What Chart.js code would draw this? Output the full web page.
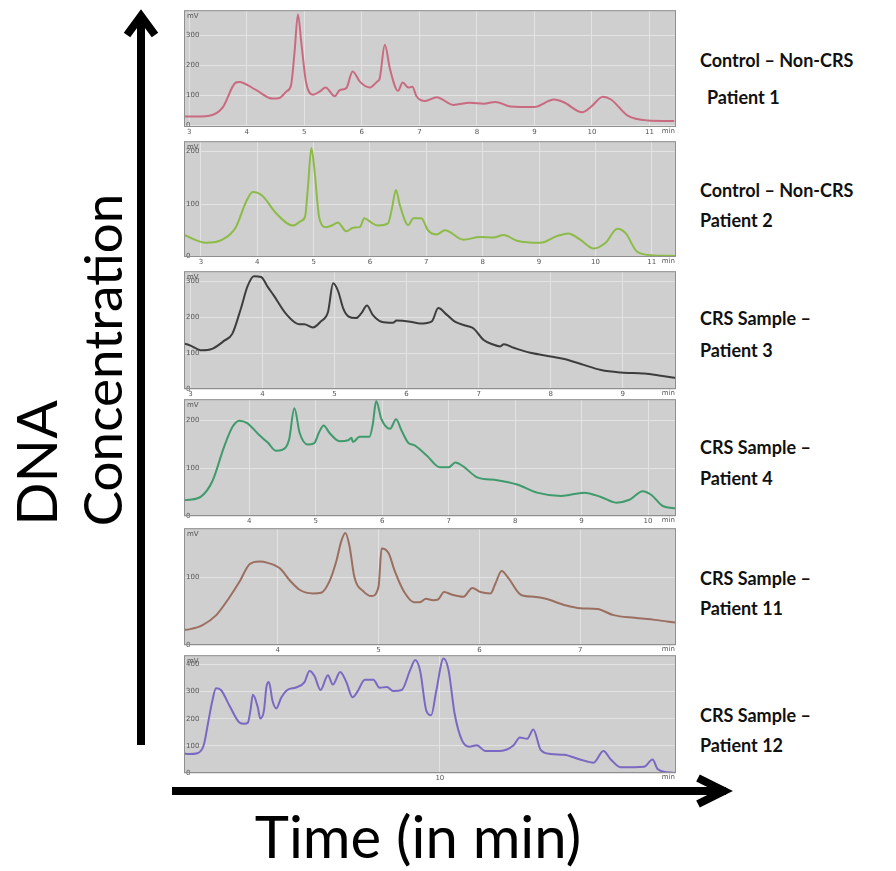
<!DOCTYPE html>
<html>
<head>
<meta charset="utf-8">
<script src="https://cdn.jsdelivr.net/npm/chart.js@4.4.1/dist/chart.umd.min.js"></script>
<style>
  body { margin: 0; background: #fff; width: 896px; height: 871px; position: relative; overflow: hidden; font-family: Lato, sans-serif; }
  canvas.panel { position: absolute; left: 183px; }
  .label { position: absolute; left: 700px; font-weight: bold; font-size: 18px; color: #111; line-height: 1; white-space: nowrap; }
  .big { position: absolute; color: #000; white-space: nowrap; line-height: 1; }
  .rot { transform: translate(-50%, -50%) rotate(-90deg); }
  svg { position: absolute; left: 0; top: 0; }
</style>
</head>
<body>
<svg width="896" height="871">
  <line x1="141" y1="22" x2="141" y2="745" stroke="#000" stroke-width="8"/>
  <polyline points="127,35 141,16 155,35" fill="none" stroke="#000" stroke-width="8" stroke-linejoin="miter"/>
  <line x1="172" y1="791" x2="726" y2="791" stroke="#000" stroke-width="8"/>
  <polyline points="698,778 724,791 698,804" fill="none" stroke="#000" stroke-width="8" stroke-linejoin="miter"/>
</svg>

<canvas class="panel" id="p1" width="494" height="131" style="top:4px"></canvas>
<canvas class="panel" id="p2" width="494" height="130" style="top:135px"></canvas>
<canvas class="panel" id="p3" width="494" height="132" style="top:265px"></canvas>
<canvas class="panel" id="p4" width="494" height="131" style="top:393px"></canvas>
<canvas class="panel" id="p5" width="494" height="131" style="top:522px"></canvas>
<canvas class="panel" id="p6" width="494" height="132" style="top:649px"></canvas>

<div class="big rot" style="left:35px; top:463px; font-size:57px">DNA</div>
<div class="big rot" style="left:101px; top:360px; font-size:53px">Concentration</div>
<div class="big" style="left:418px; top:836px; font-size:58px; transform: translate(-50%, -50%)">Time (in min)</div>

<div class="label" style="top:51px">Control – Non-CRS</div>
<div class="label" style="top:88px; left:707px">Patient 1</div>
<div class="label" style="top:181px">Control – Non-CRS</div>
<div class="label" style="top:211px">Patient 2</div>
<div class="label" style="top:309px">CRS Sample –</div>
<div class="label" style="top:341px">Patient 3</div>
<div class="label" style="top:438px">CRS Sample –</div>
<div class="label" style="top:469px">Patient 4</div>
<div class="label" style="top:569px">CRS Sample –</div>
<div class="label" style="top:599px">Patient 11</div>
<div class="label" style="top:706px">CRS Sample –</div>
<div class="label" style="top:736px">Patient 12</div>

<script>
// Control - Patient 1
const p1Time = [2.91, 3.0, 3.35, 3.58, 3.81, 3.87, 4.16, 4.45, 4.57, 4.69, 4.77, 4.83, 4.89, 4.95, 5.03, 5.15, 5.27, 5.37, 5.53, 5.62,
  5.73, 5.84, 5.97, 6.14, 6.26, 6.31, 6.40, 6.49, 6.63, 6.71, 6.81, 6.88, 6.95, 7.10, 7.30, 7.59, 7.88, 8.12, 8.32, 8.58,
  8.99, 9.34, 9.51, 9.83, 9.98, 10.19, 10.33, 10.62, 10.97, 11.43];
const p1Signal = [29, 29, 32, 59, 143, 145, 118, 89, 91, 113, 134, 242, 371, 274, 145, 102, 113, 126, 97, 118,
  124, 180, 145, 126, 145, 156, 269, 188, 115, 143, 126, 129, 97, 81, 94, 68, 75, 72, 78, 63,
  61, 86, 77, 43, 61, 95, 86, 32, 16, 14];
const p1XTicks = [3, 4, 5, 6, 7, 8, 9, 10, 11];
const p1YTicks = [0, 100, 200, 300];

// Control - Patient 2
const p2Time = [2.70, 3.09, 3.38, 3.62, 3.80, 3.92, 4.09, 4.33, 4.63, 4.78, 4.85, 4.90, 4.96, 5.01, 5.10, 5.22, 5.34, 5.43, 5.58, 5.70,
  5.82, 5.90, 6.02, 6.14, 6.32, 6.39, 6.46, 6.53, 6.68, 6.77, 6.91, 7.03, 7.18, 7.33, 7.66, 7.95, 8.19, 8.37, 8.61, 9.02,
  9.32, 9.52, 9.73, 9.97, 10.18, 10.39, 10.54, 10.74, 11.04, 11.42];
const p2Signal = [41, 26, 32, 56, 104, 123, 116, 83, 59, 68, 77, 134, 207, 170, 74, 56, 60, 65, 48, 55,
  56, 73, 65, 59, 63, 92, 127, 98, 60, 73, 73, 50, 42, 50, 32, 37, 36, 41, 30, 26,
  39, 44, 32, 15, 26, 53, 44, 9, 2, 1];
const p2XTicks = [3, 4, 5, 6, 7, 8, 9, 10, 11];
const p2YTicks = [0, 100, 200];

// CRS - Patient 3
const p3Time = [2.91, 2.98, 3.16, 3.30, 3.47, 3.58, 3.70, 3.79, 3.88, 3.98, 4.07, 4.16, 4.33, 4.51, 4.58, 4.70, 4.81, 4.91, 4.98, 5.05,
  5.12, 5.19, 5.30, 5.37, 5.45, 5.53, 5.65, 5.81, 5.86, 6.05, 6.19, 6.35, 6.44, 6.56, 6.67, 6.84, 6.93, 7.07, 7.19, 7.30,
  7.35, 7.49, 7.72, 8.00, 8.19, 8.42, 8.70, 8.98, 9.30, 9.53, 9.74];
const p3Signal = [127, 123, 108, 112, 135, 154, 225, 286, 315, 313, 286, 260, 209, 181, 181, 172, 189, 216, 295, 273,
  225, 203, 198, 211, 233, 207, 188, 185, 191, 188, 183, 189, 226, 207, 188, 176, 169, 137, 125, 119,
  125, 115, 101, 91, 84, 70, 53, 46, 43, 37, 31];
const p3XTicks = [3, 4, 5, 6, 7, 8, 9];
const p3YTicks = [0, 100, 200, 300];

// CRS - Patient 4
const p4Time = [3.02, 3.09, 3.27, 3.45, 3.62, 3.75, 3.85, 3.97, 4.15, 4.28, 4.40, 4.50, 4.60, 4.68, 4.76, 4.88, 4.98, 5.05, 5.12, 5.21,
  5.36, 5.49, 5.54, 5.56, 5.66, 5.81, 5.86, 5.91, 5.99, 6.12, 6.21, 6.29, 6.39, 6.49, 6.67, 6.87, 7.00, 7.10, 7.22, 7.43,
  7.73, 8.03, 8.33, 8.69, 9.04, 9.29, 9.52, 9.72, 9.92, 10.05, 10.22, 10.42];
const p4Signal = [33, 34, 40, 74, 144, 187, 200, 195, 170, 154, 137, 139, 160, 226, 174, 150, 153, 175, 190, 174,
  157, 159, 164, 155, 166, 166, 193, 241, 203, 183, 203, 180, 154, 148, 127, 102, 102, 112, 104, 81,
  75, 66, 49, 42, 49, 40, 28, 34, 52, 44, 21, 16];
const p4XTicks = [4, 5, 6, 7, 8, 9, 10];
const p4YTicks = [0, 100, 200];

// CRS - Patient 11
const p5Time = [3.07, 3.12, 3.25, 3.39, 3.52, 3.62, 3.72, 3.82, 3.90, 4.02, 4.12, 4.22, 4.35, 4.43, 4.51, 4.58, 4.63, 4.67, 4.71, 4.76,
  4.85, 4.93, 5.00, 5.03, 5.10, 5.16, 5.25, 5.35, 5.41, 5.47, 5.54, 5.59, 5.65, 5.73, 5.84, 5.93, 6.01, 6.11, 6.16, 6.22,
  6.29, 6.41, 6.54, 6.66, 6.84, 7.00, 7.17, 7.33, 7.54, 7.74, 7.95];
const p5Signal = [22, 23, 29, 44, 70, 93, 119, 123, 121, 113, 95, 81, 76, 77, 93, 123, 153, 165, 147, 100,
  79, 72, 86, 142, 135, 109, 79, 63, 63, 68, 66, 67, 78, 74, 71, 84, 78, 76, 91, 109,
  98, 74, 71, 68, 59, 54, 53, 44, 40, 37, 33];
const p5XTicks = [4, 5, 6, 7];
const p5YTicks = [0, 100];

// CRS - Patient 12
const p6Time = [7.92, 7.96, 8.03, 8.08, 8.12, 8.15, 8.18, 8.22, 8.29, 8.37, 8.41, 8.44, 8.46, 8.48, 8.52, 8.54, 8.57, 8.59, 8.61, 8.64,
  8.67, 8.71, 8.76, 8.83, 8.90, 8.94, 8.98, 9.03, 9.09, 9.13, 9.19, 9.24, 9.29, 9.33, 9.39, 9.46, 9.51, 9.57, 9.62, 9.69,
  9.76, 9.80, 9.84, 9.89, 9.93, 9.97, 10.03, 10.07, 10.12, 10.18, 10.24, 10.30, 10.37, 10.49, 10.60, 10.65, 10.71, 10.76, 10.82, 10.90,
  11.01, 11.14, 11.25, 11.33, 11.39, 11.47, 11.66, 11.73, 11.77, 11.85, 11.92];
const p6Signal = [72, 70, 73, 102, 195, 265, 312, 306, 248, 186, 181, 186, 230, 288, 242, 201, 230, 317, 335, 265,
  238, 277, 306, 315, 335, 376, 358, 306, 360, 326, 372, 335, 279, 300, 344, 344, 314, 317, 302, 306,
  381, 416, 376, 230, 213, 300, 422, 381, 219, 120, 97, 102, 81, 81, 102, 131, 126, 160, 85, 70,
  67, 50, 38, 81, 50, 21, 23, 50, 15, 3, 0];
const p6XTicks = [10];
const p6YTicks = [0, 100, 200, 300, 400];

// gray plot background, frame, unit labels
const panelFrame = {
  id: 'panelFrame',
  beforeDraw(chart) {
    const { ctx, chartArea: a } = chart;
    ctx.save();
    ctx.fillStyle = '#cfcfcf';
    ctx.fillRect(a.left, a.top, a.right - a.left, a.bottom - a.top);
    ctx.restore();
  },
  afterDraw(chart) {
    const { ctx, chartArea: a } = chart;
    ctx.save();
    ctx.strokeStyle = '#8f8f8f';
    ctx.lineWidth = 1;
    ctx.strokeRect(a.left + 0.5, a.top + 0.5, a.right - a.left - 1, a.bottom - a.top - 1);
    ctx.fillStyle = '#555';
    ctx.font = '7px "DejaVu Sans", sans-serif';
    ctx.textBaseline = 'top';
    ctx.textAlign = 'left';
    ctx.fillText('mV', a.left + 3, a.top + 2);
    ctx.textAlign = 'right';
    ctx.fillText('min', a.right - 1, a.bottom + 1);
    ctx.restore();
  },
};

function makePanel(id, time, signal, color, xTicks, yTicks, xMin, xMax, yMin, yMax) {
  const ctx = document.getElementById(id).getContext('2d');
  return new Chart(ctx, {
    type: 'line',
    data: {
      datasets: [{
        data: time.map((t, i) => ({ x: t, y: signal[i] })),
        borderColor: color,
        borderWidth: 2,
        pointRadius: 0,
        cubicInterpolationMode: 'monotone',
        fill: false,
      }],
    },
    options: {
      responsive: false,
      animation: false,
      devicePixelRatio: 1,
      layout: { padding: { left: 1, right: 1, top: 1, bottom: 0 } },
      plugins: { legend: { display: false }, tooltip: { enabled: false } },
      scales: {
        x: {
          type: 'linear',
          min: xMin,
          max: xMax,
          afterBuildTicks: (s) => { s.ticks = xTicks.map(v => ({ value: v })); },
          afterFit: (s) => { s.height = 8; },
          grid: { color: '#e3e3e3', drawTicks: false },
          border: { display: false },
          ticks: { color: '#555', font: { size: 7, family: 'DejaVu Sans' }, padding: 1, maxRotation: 0, autoSkip: false },
        },
        y: {
          type: 'linear',
          min: yMin,
          max: yMax,
          afterBuildTicks: (s) => { s.ticks = yTicks.map(v => ({ value: v })); },
          afterFit: (s) => { s.width = 0; },
          grid: { color: '#e3e3e3', drawTicks: false },
          border: { display: false },
          ticks: { mirror: true, color: '#555', font: { size: 7, family: 'DejaVu Sans' }, padding: 2 },
        },
      },
    },
    plugins: [panelFrame],
  });
}

makePanel('p1', p1Time, p1Signal, '#c96a80', p1XTicks, p1YTicks, 2.91, 11.46, -6, 385);
makePanel('p2', p2Time, p2Signal, '#8dbb48', p2XTicks, p2YTicks, 2.70, 11.43, -1, 220);
makePanel('p3', p3Time, p3Signal, '#3d3d3d', p3XTicks, p3YTicks, 2.91, 9.74, 0, 329);
makePanel('p4', p4Time, p4Signal, '#3f9a6c', p4XTicks, p4YTicks, 3.02, 10.42, 0, 245);
makePanel('p5', p5Time, p5Signal, '#9b6f60', p5XTicks, p5YTicks, 3.07, 7.95, 0, 172);
makePanel('p6', p6Time, p6Signal, '#7a68c2', p6XTicks, p6YTicks, 7.92, 11.92, 0, 434);
</script>
</body>
</html>
